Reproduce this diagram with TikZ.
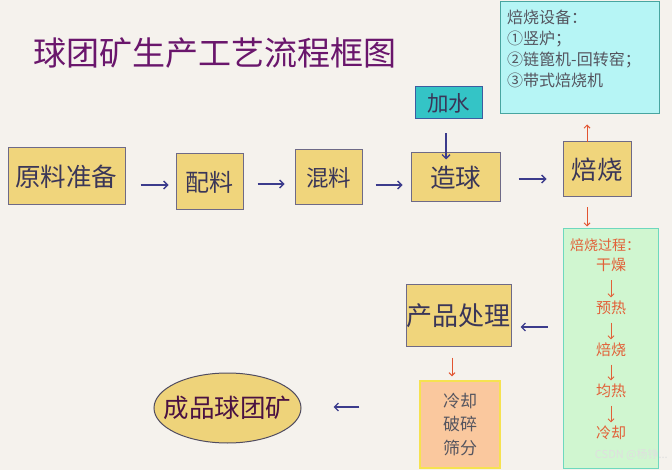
\documentclass[tikz,border=0pt]{standalone}
\usepackage{fontspec}
\newfontfamily\cjk{Noto Sans CJK SC}
\usetikzlibrary{shapes.geometric,arrows.meta,calc}
\definecolor{bg}{RGB}{245,242,237}
\definecolor{gold}{RGB}{240,213,124}
\definecolor{goldedge}{RGB}{110,106,135}
\definecolor{boxtext}{RGB}{58,54,88}
\definecolor{navy}{RGB}{60,60,140}
\definecolor{redarr}{RGB}{226,84,48}
\definecolor{titlecol}{RGB}{106,22,108}
\definecolor{waterfill}{RGB}{52,196,198}
\definecolor{wateredge}{RGB}{60,92,160}
\definecolor{cyanfill}{RGB}{182,245,245}
\definecolor{cyanedge}{RGB}{72,165,160}
\definecolor{greenfill}{RGB}{208,246,208}
\definecolor{greenedge}{RGB}{110,216,190}
\definecolor{orangetext}{RGB}{226,96,56}
\definecolor{peach}{RGB}{250,200,158}
\definecolor{yelledge}{RGB}{246,226,80}
\definecolor{graytext}{RGB}{85,85,95}
\definecolor{ellfill}{RGB}{238,211,122}
\definecolor{elledge}{RGB}{80,76,96}
\definecolor{elltext}{RGB}{74,18,66}
\tikzset{
  goldbox/.style={draw=goldedge, line width=1pt, fill=gold, inner sep=0pt, text=boxtext},
  navyarr/.style={draw=navy, line width=1.3pt, -{Straight Barb[length=4pt,width=8pt,line width=1.3pt]}},
  redarrow/.style={draw=redarr, line width=1pt, -{Straight Barb[length=3pt,width=6pt,line width=1pt]}},
  smallarr/.style={draw=orangetext, line width=0.9pt, -{Straight Barb[length=3pt,width=6pt,line width=0.9pt]}, shorten <=7pt, shorten >=2pt},
  steptext/.style={text=orangetext, font=\cjk\fontsize{15pt}{17pt}\selectfont, inner sep=1pt}
}
\begin{document}
\begin{tikzpicture}[x=1pt,y=-1pt]
\fill[bg] (0,0) rectangle (672,470);
\useasboundingbox (0,0) rectangle (672,470);

% title
\node[text=titlecol, font=\cjk\fontsize{33pt}{36pt}\selectfont] (title) at (215,53) {球团矿生产工艺流程框图};

% roasting equipment box
\node[draw=cyanedge, line width=1pt, fill=cyanfill, minimum width=159pt, minimum height=112pt, inner sep=0pt] (shebei) at (579.5,58) {};
\node[anchor=north west, align=left, text=graytext, font=\cjk\fontsize{16pt}{21pt}\selectfont, inner sep=0pt] (shebeitext) at (507,9.5) {焙烧设备：\\①竖炉；\\②链篦机-回转窑；\\③带式焙烧机};

% add water
\node[draw=wateredge, line width=1pt, fill=waterfill, minimum width=67pt, minimum height=32pt, inner sep=0pt, text=boxtext, font=\cjk\fontsize{21.5pt}{24pt}\selectfont] (jiashui) at (448.5,103) {加水};

% main row
\node[goldbox, minimum width=117pt, minimum height=57pt, font=\cjk\fontsize{25.5pt}{28pt}\selectfont] (yuanliao) at (66.5,176.5) {原料准备};
\node[goldbox, minimum width=67pt, minimum height=56pt, font=\cjk\fontsize{24pt}{26pt}\selectfont] (peiliao) at (209.5,182) {配料};
\node[goldbox, minimum width=67pt, minimum height=55pt, font=\cjk\fontsize{22.5pt}{25pt}\selectfont] (hunliao) at (328.5,177.5) {混料};
\node[goldbox, minimum width=89pt, minimum height=49pt, font=\cjk\fontsize{25.5pt}{28pt}\selectfont] (zaoqiu) at (455.5,177.5) {造球};
\node[goldbox, minimum width=68pt, minimum height=55pt, font=\cjk\fontsize{25.5pt}{28pt}\selectfont] (beishao) at (597,169.5) {焙烧};

\draw[navyarr] ($(yuanliao.east)+(15,8.5)$) -- ($(peiliao.west)+(-7,3)$);
\draw[navyarr] ($(peiliao.east)+(14,2)$) -- ($(hunliao.west)+(-10,6.5)$);
\draw[navyarr] ($(hunliao.east)+(13,7.5)$) -- ($(zaoqiu.west)+(-8,7.5)$);
\draw[navyarr] ($(zaoqiu.east)+(18,1.5)$) -- ($(beishao.west)+(-16,9.5)$);
\draw[navyarr, line width=1.2pt] ($(jiashui.south)+(-2.5,14)$) -- ($(zaoqiu.north)+(-9.5,7)$);

% red arrow up to equipment box
\draw[redarrow] ($(beishao.north)+(-10,1)$) -- ($(shebei.south)+(7.5,10)$);

% roasting process box
\node[draw=greenedge, line width=1pt, fill=greenfill, minimum width=95pt, minimum height=239pt, inner sep=0pt] (guocheng) at (610.5,348.5) {};
\draw[redarrow] ($(beishao.south)+(-10,10)$) -- ($(guocheng.north)+(-23.5,-2)$);
\node[anchor=west, text=orangetext, font=\cjk\fontsize{14pt}{16pt}\selectfont, inner sep=0pt] (gclabel) at (570,245) {焙烧过程：};
\node[steptext] (s1) at (611,265) {干燥};
\node[steptext] (s2) at (611,307.5) {预热};
\node[steptext] (s3) at (611,349.5) {焙烧};
\node[steptext] (s4) at (611,390.5) {均热};
\node[steptext] (s5) at (611,432.5) {冷却};
\draw[smallarr] (s1) -- (s2);
\draw[smallarr] (s2) -- (s3);
\draw[smallarr] (s3) -- (s4);
\draw[smallarr] (s4) -- (s5);

% product handling
\node[goldbox, minimum width=105pt, minimum height=61pt, font=\cjk\fontsize{26pt}{28pt}\selectfont] (chanpin) at (458.5,315.5) {产品处理};
\draw[navyarr] ($(guocheng.west)+(-15,-21.5)$) -- ($(chanpin.east)+(9,11.5)$);

\node[draw=yelledge, line width=1.2pt, fill=peach, minimum width=80pt, minimum height=87pt, inner sep=0pt, align=center, text=graytext, font=\cjk\fontsize{17pt}{23.5pt}\selectfont] (lengque) at (460,424.5) {冷却\\破碎\\筛分};
\draw[redarrow] ($(chanpin.south)+(-6.5,11)$) -- ($(lengque.north)+(-8,-4)$);

% finished product ellipse
\node[ellipse, draw=elledge, line width=1pt, fill=ellfill, minimum width=147pt, minimum height=70pt, inner sep=0pt] (chengpin) at (227.5,408) {};
\node[text=elltext, font=\cjk\fontsize{25.5pt}{28pt}\selectfont, inner sep=0pt] (chengpintext) at (chengpin.center) {成品球团矿};
\draw[navyarr] ($(lengque.west)+(-60,-17.5)$) -- ($(chengpin.east)+(32,-1)$);

% watermark
\node[text=white!75!gray, font=\cjk\fontsize{11pt}{13pt}\selectfont, anchor=east, inner sep=0pt] (wm) at (668,455) {CSDN @杨铮...};
\end{tikzpicture}
\end{document}
